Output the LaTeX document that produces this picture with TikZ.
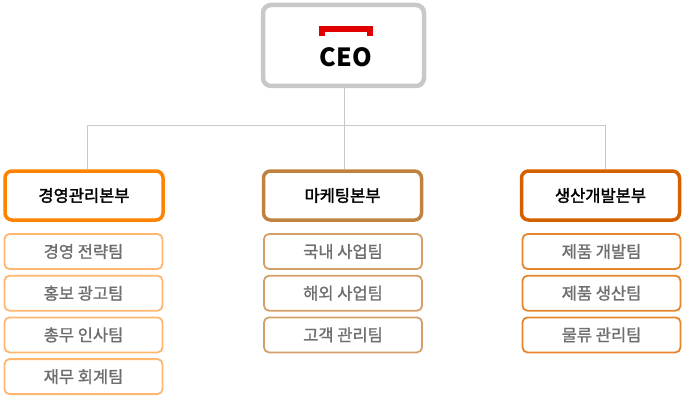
\documentclass[tikz,border=0pt]{standalone}
\usepackage{fontspec}
\setmainfont{Noto Sans CJK KR}
\newfontfamily\divfont{Noto Sans CJK KR}[FakeBold=2]
\newfontfamily\teamfont{Noto Sans CJK KR}[FakeBold=1.3]
\definecolor{ceogray}{HTML}{C8C8C8}
\definecolor{linegray}{HTML}{C8C8C8}
\definecolor{ceored}{HTML}{E00000}
\definecolor{divA}{HTML}{FF8200}
\definecolor{divB}{HTML}{C0823F}
\definecolor{divC}{HTML}{D46000}
\definecolor{teamA}{HTML}{FFB66E}
\definecolor{teamB}{HTML}{D4A06A}
\definecolor{teamC}{HTML}{E8852A}
\definecolor{teamtext}{HTML}{6E6E6E}
\tikzset{
  ceobox/.style={draw=ceogray, line width=4.5pt, rounded corners=8pt, fill=white,
    minimum width=161pt, minimum height=81pt, inner sep=0pt},
  divbox/.style={line width=3.5pt, rounded corners=7pt, fill=white,
    minimum width=158pt, minimum height=49pt, inner sep=0pt,
    font=\divfont\fontsize{16.5}{19}\selectfont, text=black},
  teambox/.style={line width=1.8pt, rounded corners=5pt, fill=white,
    minimum width=158pt, minimum height=35pt, inner sep=0pt,
    font=\teamfont\fontsize{16.5}{19}\selectfont, text=teamtext},
  conn/.style={draw=linegray, line width=1pt},
}
\begin{document}
\begin{tikzpicture}[x=1pt,y=-1pt]
\useasboundingbox (0,0) rectangle (687,401);
\coordinate (j) at (344,125);
\coordinate (jl) at (87,125);
\coordinate (jr) at (605,125);
\node[ceobox] (ceo) at (343.5,45.5) {};
\node[divbox, draw=divA] (d1) at (84,195.5) {경영관리본부};
\node[divbox, draw=divB] (d2) at (342.5,195.5) {마케팅본부};
\node[divbox, draw=divC] (d3) at (600.5,195.5) {생산개발본부};
\draw[conn] (ceo.south -| j) -- (j);
\draw[conn] (jl) -- (jr);
\draw[conn] (jl) -- (jl |- d1.north);
\draw[conn] (j) -- (j |- d2.north);
\draw[conn] (jr) -- (jr |- d3.north);
% CEO content
\fill[ceored] (319,26) rectangle (373,32);
\fill[ceored] (319,26) rectangle (325,36);
\fill[ceored] (367,26) rectangle (373,36);
\node[font=\fontsize{25}{28}\selectfont\bfseries, text=black, inner sep=0pt] (ceot) at (346,57.5) {CEO};
% teams
\foreach \t [count=\i] in {경영 전략팀, 홍보 광고팀, 총무 인사팀, 재무 회계팀}
  \node[teambox, draw=teamA] (a\i) at (83.5,{251.5+41.7*(\i-1)}) {\t};
\foreach \t [count=\i] in {국내 사업팀, 해외 사업팀, 고객 관리팀}
  \node[teambox, draw=teamB] (b\i) at (343,{251.5+41.7*(\i-1)}) {\t};
\foreach \t [count=\i] in {제품 개발팀, 제품 생산팀, 물류 관리팀}
  \node[teambox, draw=teamC] (c\i) at (601.5,{251.5+41.7*(\i-1)}) {\t};
\end{tikzpicture}
\end{document}
